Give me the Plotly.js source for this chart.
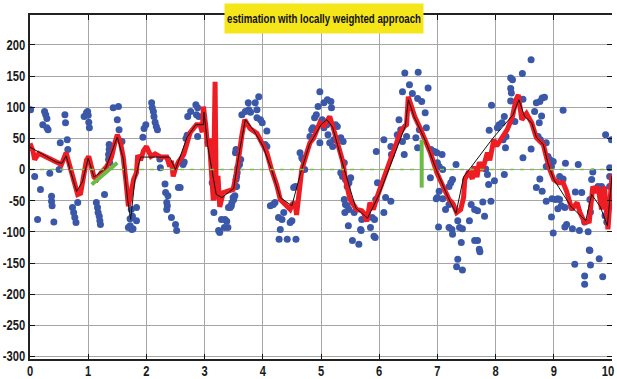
<!DOCTYPE html>
<html>
<head>
<meta charset="utf-8">
<script src="https://cdn.plot.ly/plotly-3.0.1.min.js"></script>
<style>html,body{margin:0;padding:0;background:#fff;}#chart{width:617px;height:379px;}</style>
</head>
<body>
<div id="chart"></div>
<script>
// ---- data ----
var blueX = [0.01,0.08,0.13,0.18,0.22,0.25,0.27,0.29,0.29,0.31,0.34,0.37,0.37,0.38,0.41,0.5,0.52,0.6,0.61,0.64,0.65,0.73,0.75,0.77,0.79,0.82,0.93,0.97,0.99,1.0,1.01,1.02,1.14,1.16,1.17,1.19,1.2,1.21,1.28,1.36,1.36,1.35,1.35,1.37,1.43,1.52,1.5,1.53,1.58,1.69,
 1.72,1.75,1.77,1.72,1.83,1.83,1.74,1.76,1.94,1.96,1.99,2.09,2.1,2.12,2.13,2.15,2.17,2.19,2.23,2.24,2.32,2.33,2.35,2.36,2.35,2.37,2.43,2.5,2.52,2.55,2.58,2.63,2.65,2.68,2.7,2.71,2.76,2.85,2.88,2.86,2.9,2.88,3.06,3.13,3.16,3.24,3.26,3.29,3.38,3.4,3.44,3.46,3.47,3.49,3.55,3.34,3.35,
 3.41,3.44,3.5,3.52,3.53,3.54,3.55,3.56,3.57,3.6,3.62,3.53,3.54,3.64,3.7,3.75,3.76,3.79,3.87,3.9,3.93,3.9,3.96,3.99,4.07,4.04,4.07,4.13,4.18,4.21,4.27,4.33,4.36,4.3,4.28,4.42,4.47,4.5,4.56,4.57,4.53,4.64,4.67,4.69,4.72,4.81,4.84,4.86,4.89,4.92,4.95,4.98,4.98,
 5.05,5.11,5.17,5.18,5.02,5.1,5.05,5.12,5.15,5.2,5.22,5.25,5.28,5.34,5.38,5.34,5.37,5.4,5.42,5.45,5.48,5.51,5.4,5.42,5.45,5.48,5.41,5.47,5.54,5.65,5.57,5.68,5.69,5.7,5.85,5.88,5.91,5.93,5.94,5.97,5.92,5.95,6.08,6.08,6.11,6.2,6.21,6.2,6.31,6.34,6.37,6.4,6.43,6.47,6.4,6.44,6.52,6.57,6.63,6.66,6.67,6.84,
 6.66,6.73,6.79,6.69,6.81,6.89,6.95,6.99,7.08,7.0,7.03,7.09,6.88,7.32,7.03,7.0,6.98,7.09,7.2,7.23,7.26,7.14,7.2,7.02,7.2,7.25,7.26,7.35,7.38,7.43,7.41,7.35,7.33,7.43,7.55,7.58,7.64,7.69,7.78,7.81,7.64,7.69,7.72,7.73,7.83,7.86,7.88,7.92,7.98,8.15,7.93,7.89,8.03,8.06,8.11,8.15,8.13,8.17,8.18,
 8.26,8.29,8.26,8.27,8.26,8.47,8.61,8.46,8.7,8.76,8.8,8.84,8.79,8.75,8.67,9.16,8.33,8.61,8.47,8.73,8.77,8.87,8.9,8.93,8.99,8.96,8.87,8.76,8.7,8.8,8.87,8.97,9.03,9.07,9.1,9.07,9.13,9.1,9.16,9.2,9.42,9.19,9.31,9.37,9.48,8.96,8.99,9.19,9.22,9.32,9.44,9.59,9.53,9.62,9.63,9.65,9.67,9.76,9.79,9.82,9.85,9.88,9.91,9.89,9.99,9.96,9.96,9.96,9.61,9.62,9.78,9.36,9.63,9.53,9.84,9.53];
var blueY = [96,-11,-80,-32,72,93,88,82,67,64,-6,-43,-51,-58,-84,0,43,88,75,48,32,-61,-69,-77,-85,-53,85,91,93,87,76,67,-53,-61,-69,-75,-82,-88,-40,40,32,24,16,11,99,101,80,64,45,-93,
 -90,-96,-95,-79,-61,-82,-64,-75,52,66,72,107,99,93,85,76,69,64,17,3,-23,-37,-53,-58,-64,-42,-77,-88,-98,-29,-29,8,12,50,55,85,93,104,99,88,85,53,43,-21,-69,-98,-101,-80,-83,-93,-61,-58,-53,-45,-27,-93,-80,
 -61,-59,-48,-42,-27,-16,-11,-5,3,8,16,27,32,88,93,107,96,92,107,96,117,83,80,75,62,40,37,-58,-56,-53,-77,-80,-69,-96,-112,-112,-85,-82,-27,-112,-29,27,19,16,0,53,64,67,83,88,101,125,43,
 107,112,109,99,80,72,67,56,43,37,48,72,69,51,45,-5,-11,11,-16,-27,-21,-13,-48,-56,-58,-64,-69,-90,-114,-120,-69,-96,-98,-80,-93,-77,-107,-109,-48,-21,-80,29,48,-69,-45,37,24,-51,56,80,64,45,24,53,125,155,136,122,51,35,156,131,
 114,109,91,64,67,32,29,27,24,11,5,0,-13,8,-35,-45,-47,-47,-27,-21,-16,-64,-56,-92,-93,-96,-104,-82,-93,-95,-117,-144,-156,-161,-82,-56,-64,-66,-52,-75,-114,-114,-128,-132,1,-8,-24,-51,-18,-8,103,63,67,72,75,85,48,35,53,
 147,144,130,123,110,113,176,154,107,109,115,116,86,75,93,95,77,33,19,53,48,43,21,16,13,5,5,-15,-29,-35,-51,-47,-48,-47,-48,-63,-58,-11,-15,10,8,-61,-61,-36,-37,-76,-102,-92,-88,-95,-98,-100,-84,-48,-68,-16,-4,-27,-29,-27,-35,-74,-84,56,48,3,-11,-27,-129,-130,-143,-152,-153,-171,-172,-184];

var redX = [0,0.05,0.08,0.15,0.35,0.54,0.62,0.66,0.71,0.76,0.82,0.87,0.92,0.97,1.01,1.05,1.1,1.15,1.22,1.32,1.4,1.45,1.5,1.55,1.6,1.65,1.69,1.73,1.78,1.83,1.85,1.9,1.95,2.0,2.05,2.08,2.15,2.25,2.35,2.4,2.43,2.46,2.5,2.55,2.64,2.75,2.86,2.92,2.96,2.98,3.02,3.05,3.08,3.12,3.15,3.18,3.2,3.23,3.26,3.32,3.4,3.49,3.55,3.6,3.64,3.69,3.78,3.9,4.0,4.07,4.15,4.24,4.3,4.38,4.47,4.52,4.56,4.58,4.62,4.67,4.75,4.81,4.87,4.95,4.98,5.05,5.1,5.15,5.2,5.27,5.33,5.38,5.42,5.5,5.61,5.7,5.73,5.79,5.84,5.9,5.96,6.01,6.1,6.19,6.28,6.36,6.44,6.47,6.5,6.55,6.61,6.7,6.79,6.88,6.99,7.1,7.2,7.27,7.33,7.4,7.45,7.47,7.54,7.6,7.63,7.68,7.72,7.77,7.86,7.9,7.97,8.02,8.12,8.2,8.29,8.35,8.39,8.45,8.53,8.62,8.7,8.82,8.87,8.93,9.0,9.08,9.16,9.22,9.31,9.4,9.45,9.53,9.61,9.67,9.72,9.76,9.82,9.87,9.93,9.99,10];
var redY = [42,30,16,26,17,8,27,12,-4,-22,-40,-38,-8,15,21,5,-12,-16,-5,5,20,40,56,45,21,-20,-59,-40,-16,-5,23,15,30,37,28,21,25,20,20,5,14,-11,2,12,24,59,72,72,60,101,70,37,50,-20,-50,141,-48,-10,-60,-37,-35,-32,-5,37,55,80,66,58,40,27,0,-25,-48,-55,-64,-53,-58,-73,-40,0,25,43,50,70,75,70,78,85,70,48,25,11,-16,-48,-64,-66,-69,-83,-53,-64,-45,-32,-10,11,35,59,70,72,117,100,85,67,48,27,-5,-30,-48,-55,-69,-64,-45,-16,-3,-15,5,-12,12,-2,27,15,48,38,53,64,85,112,120,80,90,75,51,40,21,0,-16,-21,-21,-35,-64,-53,-69,-85,-83,-27,-37,-27,-64,-27,-96,-16,-8];

var blackX = [0,0.45,0.55,0.62,0.8,0.9,1.0,1.1,1.3,1.5,1.6,1.68,1.73,1.8,1.9,2.4,2.5,2.7,2.85,2.98,2.99,3.05,3.2,3.3,3.5,3.6,3.7,3.85,4.0,4.15,4.3,4.5,4.65,4.8,5.0,5.1,5.2,5.4,5.6,5.8,6.0,6.2,6.45,6.5,6.6,6.8,7.0,7.2,7.32,7.45,7.95,8.3,8.4,8.5,8.62,8.7,8.82,8.9,9.0,9.3,9.55,9.65,9.8,9.92,10];
var blackY = [36,12,10,22,-35,-20,18,-12,2,52,18,-50,-80,-18,20,20,0,52,72,72,92,40,-40,-45,-30,30,80,62,38,0,-45,-58,-5,40,72,80,68,0,-62,-78,-40,10,70,112,85,45,-5,-48,-70,-12,50,88,112,85,75,52,40,10,-16,-60,-82,-40,-60,-90,-10];

var zeroX = [0,10];
var zeroY = [0,0];
var greenX = [1.06,1.5,null,6.73,6.73];
var greenY = [-24,11,null,48,-29];

var yTicks = [-300,-250,-200,-150,-100,-50,0,50,100,150,200];
var yTickText = ['-300','-250','-200','-150','-100','-50','0','50','100','150','200'];
var xTicks = [0,1,2,3,4,5,6,7,8,9,10];
var titleText = 'estimation with locally weighted approach';

// ---- chart ----
var fam = '"Liberation Sans", Arial, sans-serif';
var yr = [-304, 248];
var traces = [
  {x: blueX, y: blueY, mode: 'markers', type: 'scatter',
   marker: {color: '#3b58a8', size: 7, line: {width: 0}}, hoverinfo: 'skip'},
  {x: redX, y: redY, mode: 'lines', type: 'scatter',
   line: {color: '#ee1d24', width: 5}, hoverinfo: 'skip'},
  {x: blackX, y: blackY, mode: 'lines', type: 'scatter',
   line: {color: '#111111', width: 1}, hoverinfo: 'skip'},
  {x: zeroX, y: zeroY, mode: 'lines', type: 'scatter',
   line: {color: '#7cc242', width: 1.5, dash: '4px,6px'}, hoverinfo: 'skip'},
  {x: greenX, y: greenY, mode: 'lines', type: 'scatter',
   line: {color: '#6cbb45', width: 4}, hoverinfo: 'skip'},
  {x: [0], y: [0], yaxis: 'y2', mode: 'markers', marker: {opacity: 0}, hoverinfo: 'skip'}
];
var tf = {family: fam, size: 14, color: '#1a1a1a', weight: 'bold'};
var layout = {
  width: 617, height: 379,
  margin: {l: 30, r: 5, t: 15, b: 20},
  paper_bgcolor: '#ffffff', plot_bgcolor: '#ffffff',
  showlegend: false,
  xaxis: {range: [0, 10], tickvals: xTicks, ticks: 'inside', ticklen: 5, tickcolor: '#111',
    showline: true, linecolor: '#222', linewidth: 2, mirror: 'ticks',
    showgrid: true, gridcolor: '#a6a6a6', gridwidth: 1, zeroline: false,
    ticklabeloverflow: 'allow', ticklabelstandoff: -2, tickfont: tf},
  yaxis: {range: yr, tickvals: yTicks, ticktext: yTickText, ticks: 'inside', ticklen: 5, tickcolor: '#111',
    showline: true, linecolor: '#222', linewidth: 2,
    showgrid: true, gridcolor: '#a6a6a6', gridwidth: 1, zeroline: false,
    ticklabeloverflow: 'allow', tickfont: tf},
  yaxis2: {range: yr, overlaying: 'y', side: 'right', tickvals: yTicks, ticks: 'inside', ticklen: 5,
    tickcolor: '#111', showticklabels: false, showgrid: false, zeroline: false, showline: false},
  annotations: [{
    text: titleText, xref: 'paper', yref: 'paper', x: 0.505, y: 0.99,
    xanchor: 'center', yanchor: 'middle', showarrow: false,
    bgcolor: '#f5e61a', width: 198, height: 29, borderpad: 0,
    font: {family: fam, size: 12.5, color: '#111', weight: 'bold'}
  }]
};
Plotly.newPlot('chart', traces, layout, {displayModeBar: false, staticPlot: true}).then(function (gd) {
  // condense the labels horizontally, like the narrow font of the original
  var W = gd.getBoundingClientRect();
  gd.querySelectorAll('.xtick text, .ytick text').forEach(function (t) {
    var L = t.getComputedTextLength();
    var r = t.getBoundingClientRect();
    var c = (r.left + r.right) / 2;
    t.setAttribute('textLength', (L * 0.8).toFixed(1));
    t.setAttribute('lengthAdjust', 'spacingAndGlyphs');
    var over = (c + L / 2) - (W.left + 616);
    if (over > 0) {
      var x0 = parseFloat(t.getAttribute('x') || '0');
      t.setAttribute('x', (x0 - over).toFixed(1));
    }
  });
  var at = gd.querySelector('.annotation-text');
  if (at) {
    at.setAttribute('textLength', '194');
    at.setAttribute('lengthAdjust', 'spacingAndGlyphs');
  }
});
</script>
</body>
</html>
